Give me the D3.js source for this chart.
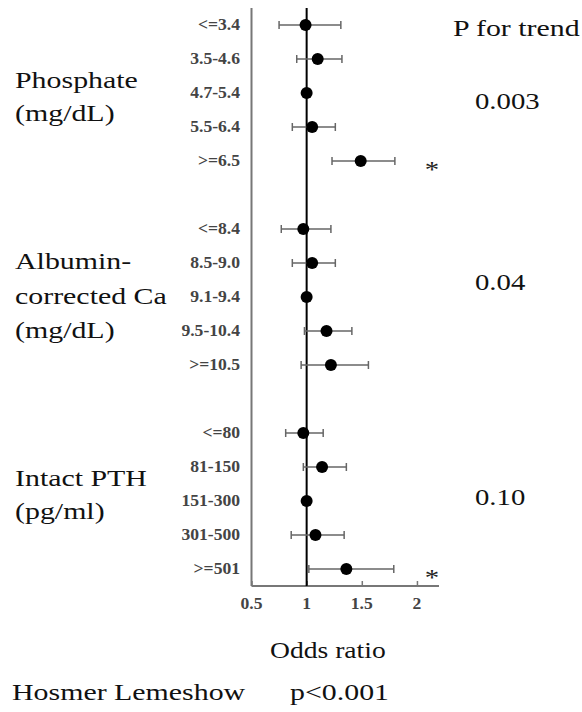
<!DOCTYPE html>
<html>
<head>
<meta charset="utf-8">
<script src="https://cdn.jsdelivr.net/npm/d3@7"></script>
<style>
  html, body { margin: 0; padding: 0; background: #fff; }
  svg { display: block; }
</style>
</head>
<body>
<svg id="chart" width="582" height="712"></svg>
<script>
// ---- Data ----
const groupLabels = [
  ["Phosphate", "(mg/dL)"],
  ["Albumin-", "corrected Ca", "(mg/dL)"],
  ["Intact PTH", "(pg/ml)"]
];
const phosCats = ["<=3.4", "3.5-4.6", "4.7-5.4", "5.5-6.4", ">=6.5"];
const phosOR   = [0.99, 1.10, 1.00, 1.05, 1.49];
const phosLo   = [0.75, 0.91, null, 0.87, 1.23];
const phosHi   = [1.31, 1.32, null, 1.26, 1.80];

const caCats = ["<=8.4", "8.5-9.0", "9.1-9.4", "9.5-10.4", ">=10.5"];
const caOR   = [0.97, 1.05, 1.00, 1.18, 1.22];
const caLo   = [0.77, 0.87, null, 0.98, 0.95];
const caHi   = [1.22, 1.26, null, 1.41, 1.56];

const pthCats = ["<=80", "81-150", "151-300", "301-500", ">=501"];
const pthOR   = [0.97, 1.14, 1.00, 1.08, 1.36];
const pthLo   = [0.81, 0.97, null, 0.86, 1.02];
const pthHi   = [1.15, 1.36, null, 1.34, 1.79];

const pTrend = ["0.003", "0.04", "0.10"];
const significant = [[4], [], [4]]; // rows marked with *
const xTicks = [0.5, 1, 1.5, 2];
const xTickLabels = ["0.5", "1", "1.5", "2"];
const xTitle = "Odds ratio";
const footLeft = "Hosmer Lemeshow";
const footRight = "p<0.001";
const trendTitle = "P for trend";

// ---- Build rows (blank row between groups) ----
const groupsData = [
  {cats: phosCats, or: phosOR, lo: phosLo, hi: phosHi},
  {cats: caCats, or: caOR, lo: caLo, hi: caHi},
  {cats: pthCats, or: pthOR, lo: pthLo, hi: pthHi}
];
const rows = [];
groupsData.forEach((g, gi) => {
  g.cats.forEach((c, i) => {
    rows.push({key: gi * 6 + i, g: gi, i, cat: c, or: g.or[i], lo: g.lo[i], hi: g.hi[i],
               star: significant[gi].includes(i)});
  });
});
const nSlots = 17;
const FONT = "'Liberation Serif', 'Times New Roman', Times, serif";

const svg = d3.select("#chart");
const x = d3.scaleLinear().domain([0.5, 2.2]).range([251.5, 439]);
const y = d3.scaleBand().domain(d3.range(nSlots)).range([8, 586]);
const yc = k => y(k) + y.bandwidth() / 2;
const axisY = 586;

function stext(parent, str, tx, ty, size, sx, anchor, fill) {
  return parent.append("text")
    .attr("transform", `translate(${tx},${ty}) scale(${sx},1)`)
    .attr("text-anchor", anchor || "start")
    .attr("font-family", FONT)
    .attr("font-size", size)
    .attr("fill", fill || "#111")
    .text(str);
}

// y axis line (left)
svg.append("line")
  .attr("x1", x(0.5)).attr("x2", x(0.5))
  .attr("y1", 8).attr("y2", axisY)
  .attr("stroke", "#777").attr("stroke-width", 2);

// x axis
const xAxis = d3.axisTop(x).tickValues(xTicks).tickSize(5).tickFormat("");
const gx = svg.append("g").attr("transform", `translate(0,${axisY})`).call(xAxis);
gx.select(".domain").attr("d", `M${x(0.5)},0H${x(2.2)}`).attr("stroke", "#777").attr("stroke-width", 2);
gx.selectAll(".tick line").attr("stroke", "#777").attr("stroke-width", 1.5);

xTicks.forEach((t, i) => {
  stext(svg, xTickLabels[i], x(t), 609, 16, 1.1, "middle", "#444").attr("font-weight", "bold");
});

// reference line at OR = 1
svg.append("line")
  .attr("x1", x(1)).attr("x2", x(1))
  .attr("y1", 8).attr("y2", axisY)
  .attr("stroke", "#000").attr("stroke-width", 2);

// error bars
const ci = rows.filter(r => r.lo != null);
const eb = svg.append("g").attr("stroke", "#666").attr("stroke-width", 1.5);
eb.selectAll("line.bar").data(ci).join("line").attr("class", "bar")
  .attr("x1", d => x(d.lo)).attr("x2", d => x(d.hi))
  .attr("y1", d => yc(d.key)).attr("y2", d => yc(d.key));
eb.selectAll("line.capl").data(ci).join("line").attr("class", "capl")
  .attr("x1", d => x(d.lo)).attr("x2", d => x(d.lo))
  .attr("y1", d => yc(d.key) - 4).attr("y2", d => yc(d.key) + 4);
eb.selectAll("line.caph").data(ci).join("line").attr("class", "caph")
  .attr("x1", d => x(d.hi)).attr("x2", d => x(d.hi))
  .attr("y1", d => yc(d.key) - 4).attr("y2", d => yc(d.key) + 4);

// points
svg.append("g").selectAll("circle").data(rows).join("circle")
  .attr("cx", d => x(d.or)).attr("cy", d => yc(d.key)).attr("r", 6)
  .attr("fill", "#000");

// category labels
rows.forEach(r => {
  stext(svg, r.cat, 240, yc(r.key) + 5, 16, 1.1, "end", "#444").attr("font-weight", "bold");
});

// stars
rows.filter(r => r.star).forEach(r => {
  stext(svg, "*", 432, yc(r.key) + 16, 24, 1.2, "middle", "#222");
});

// group labels
const groupBase = [[88, 121], [269, 304, 338], [486, 519]];
groupLabels.forEach((lines, gi) => {
  lines.forEach((ln, li) => {
    stext(svg, ln, 15, groupBase[gi][li], 23, 1.3, "start", "#111");
  });
});

// P for trend
stext(svg, trendTitle, 453, 36, 23, 1.3, "start", "#111");
const trendBase = [109, 290, 505];
pTrend.forEach((p, i) => {
  stext(svg, p, 475, trendBase[i], 23, 1.25, "start", "#111");
});

// axis title + footer
stext(svg, xTitle, 270, 658, 23, 1.2, "start", "#111");
stext(svg, footLeft, 12, 700, 23, 1.3, "start", "#111");
stext(svg, footRight, 290, 700, 23, 1.3, "start", "#111");
</script>
</body>
</html>
